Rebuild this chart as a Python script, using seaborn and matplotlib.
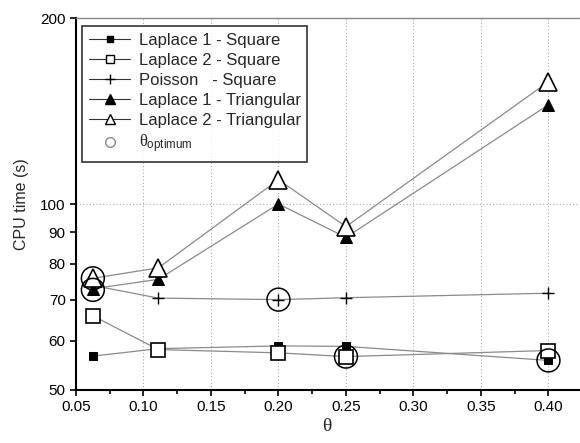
import matplotlib
matplotlib.use("Agg")
import matplotlib.pyplot as plt
import matplotlib.ticker as mticker
from matplotlib.lines import Line2D
import pandas as pd
import seaborn as sns

# data
theta = [0.0625, 0.111, 0.2, 0.25, 0.4]
lap1_square = [56.7, 58.3, 58.9, 58.8, 55.8]
lap2_square = [65.9, 58.1, 57.4, 56.6, 57.9]
poisson_square = [73.8, 70.4, 70.0, 70.5, 71.7]
lap1_tri = [72.9, 75.5, 100.0, 88.3, 144.8]
lap2_tri = [75.8, 78.8, 109.5, 91.9, 157.8]
opt_theta = [0.0625, 0.0625, 0.2, 0.25, 0.4]
opt_time = [75.8, 72.6, 70.0, 56.6, 55.8]

labels = ["Laplace 1 - Square", "Laplace 2 - Square", "Poisson   - Square",
          "Laplace 1 - Triangular", "Laplace 2 - Triangular"]

sns.set_theme(style="white")
plt.rcParams['font.family'] = ['Liberation Sans', 'DejaVu Sans']
plt.rcParams['mathtext.fontset'] = 'custom'
plt.rcParams['mathtext.rm'] = 'Liberation Sans'
plt.rcParams['mathtext.it'] = 'Liberation Serif'

fig = plt.figure(figsize=(5.8, 4.43), dpi=100)
ax = fig.add_axes([0.131, 0.12, 0.867, 0.839])

line_kw = dict(color='#8a8a8a', linewidth=0.9, markeredgecolor='black')
series = [
    (lap1_square, dict(marker='s', markersize=6, markerfacecolor='black')),
    (lap2_square, dict(marker='s', markersize=10.5, markerfacecolor='white', markeredgewidth=1.2)),
    (poisson_square, dict(marker='+', markersize=9, markeredgewidth=1.0)),
    (lap1_tri, dict(marker='^', markersize=8.5, markerfacecolor='black')),
    (lap2_tri, dict(marker='^', markersize=13.5, markerfacecolor='white', markeredgewidth=1.2)),
]
for vals, kw in series:
    df = pd.DataFrame({'theta': theta, 'time': vals})
    sns.lineplot(data=df, x='theta', y='time', ax=ax, **line_kw, **kw)

opt = pd.DataFrame({'theta': opt_theta, 'time': opt_time})
ax.scatter(opt['theta'], opt['time'], s=16.5 ** 2, facecolors='none',
           edgecolors='black', linewidths=1.1, zorder=5)

ax.set_yscale('log')
ax.set_ylim(50, 200)
ax.set_xlim(0.05, 0.4225)

ax.yaxis.set_major_locator(mticker.FixedLocator([50, 100, 200]))
ax.yaxis.set_minor_locator(mticker.FixedLocator([60, 70, 80, 90]))
ax.yaxis.set_major_formatter(mticker.FormatStrFormatter('%d'))
ax.yaxis.set_minor_formatter(mticker.FormatStrFormatter('%d'))
ax.xaxis.set_major_locator(mticker.FixedLocator([0.05, 0.10, 0.15, 0.20, 0.25, 0.30, 0.35, 0.40]))
ax.xaxis.set_minor_locator(mticker.FixedLocator([0.075, 0.125, 0.175, 0.225, 0.275, 0.325, 0.375]))
ax.xaxis.set_major_formatter(mticker.FormatStrFormatter('%.2f'))

ax.tick_params(axis='both', which='both', direction='out', colors='black',
               labelsize=11, width=1.2, length=4)
ax.tick_params(axis='y', which='both', left=True)
ax.tick_params(axis='x', which='both', bottom=True)
ax.tick_params(axis='x', which='minor', length=3)

ax.grid(True, which='major', axis='both', color='#aaaaaa', linestyle=(0, (1, 2)), linewidth=0.8)

for side in ['left', 'bottom']:
    ax.spines[side].set_color('black')
    ax.spines[side].set_linewidth(1.5)
ax.spines['top'].set_color('#888888')
ax.spines['top'].set_linewidth(1.0)
ax.spines['right'].set_visible(False)

ax.set_ylabel('CPU time (s)', fontsize=11.5, labelpad=8)
ax.set_xlabel(r'$\theta$', fontsize=14, labelpad=3)

handles = [
    Line2D([], [], color='#333333', linewidth=0.8, marker='s', markersize=5, markerfacecolor='black', markeredgecolor='black'),
    Line2D([], [], color='#333333', linewidth=0.8, marker='s', markersize=6, markerfacecolor='white', markeredgecolor='black'),
    Line2D([], [], color='#333333', linewidth=0.8, marker='+', markersize=7, markeredgecolor='black'),
    Line2D([], [], color='#333333', linewidth=0.8, marker='^', markersize=7, markerfacecolor='black', markeredgecolor='black'),
    Line2D([], [], color='#333333', linewidth=0.8, marker='^', markersize=7, markerfacecolor='white', markeredgecolor='black'),
    Line2D([], [], linestyle='none', marker='o', markersize=7, markerfacecolor='white', markeredgecolor='#888888'),
]
leg_labels = labels + [r'$\theta_{\mathrm{optimum}}$']
leg = ax.legend(handles, leg_labels, loc='upper left', bbox_to_anchor=(0.012, 0.978),
                fontsize=12, frameon=True, fancybox=False, edgecolor='black',
                handlelength=2.5, handletextpad=0.5, labelspacing=0.3,
                borderpad=0.4, borderaxespad=0)
leg.get_frame().set_linewidth(1.2)

plt.savefig('out.png', dpi=100)
